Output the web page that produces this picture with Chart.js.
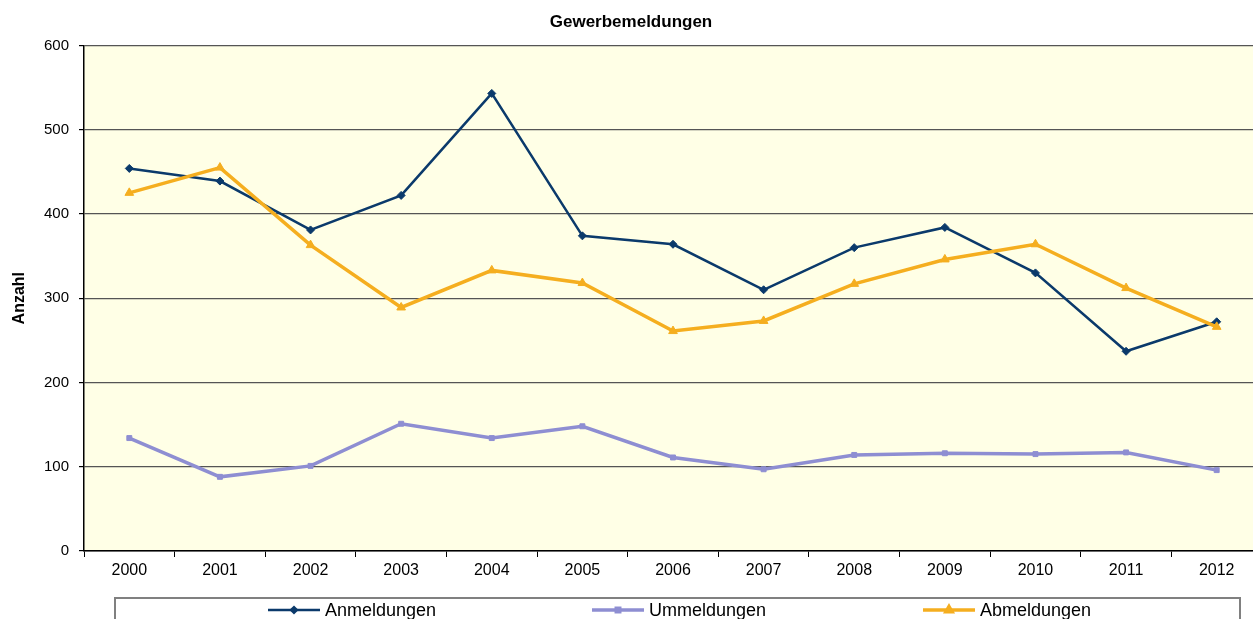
<!DOCTYPE html>
<html>
<head>
<meta charset="utf-8">
<script src="https://cdn.jsdelivr.net/npm/chart.js@4.4.0/dist/chart.umd.min.js"></script>
<style>
  html, body { margin: 0; padding: 0; background: #fff; overflow: hidden; }
  #wrap { width: 1270px; height: 640px; }
</style>
</head>
<body>
<div id="wrap"><canvas id="myChart" width="1270" height="640"></canvas></div>
<script>
// data
var years = ['2000', '2001', '2002', '2003', '2004', '2005', '2006', '2007', '2008', '2009', '2010', '2011', '2012'];
var anmeldungen = [454, 439, 381, 422, 543, 374, 364, 310, 360, 384, 330, 237, 272];
var ummeldungen = [134, 88, 101, 151, 134, 148, 111, 97, 114, 116, 115, 117, 96];
var abmeldungen = [425, 455, 363, 289, 333, 318, 261, 273, 317, 346, 364, 312, 266];
var yTicks = [0, 100, 200, 300, 400, 500, 600];

var FONT = "'Liberation Sans', Arial, sans-serif";

// yellow plot background
const plotBg = {
  id: 'plotBg',
  beforeDraw(chart) {
    const a = chart.chartArea, c = chart.ctx;
    c.save();
    c.fillStyle = '#FFFFE6';
    c.fillRect(a.left, a.top, a.right - a.left, a.bottom - a.top);
    c.restore();
  }
};

// excel style legend box at the bottom
const boxLegend = {
  id: 'boxLegend',
  afterDraw(chart) {
    const c = chart.ctx;
    c.save();
    c.strokeStyle = '#808080';
    c.lineWidth = 2;
    c.strokeRect(115, 598, 1125, 60);
    var starts = [268, 592, 923];
    var y = 610;
    chart.data.datasets.forEach(function (ds, i) {
      var x0 = starts[i];
      c.strokeStyle = ds.borderColor;
      c.lineWidth = ds.borderWidth;
      c.beginPath();
      c.moveTo(x0, y);
      c.lineTo(x0 + 52, y);
      c.stroke();
      c.fillStyle = ds.borderColor;
      Chart.helpers.drawPoint(c, {
        pointStyle: ds.pointStyle, radius: ds.pointRadius * 0.7, rotation: 0, borderWidth: 1
      }, x0 + 26, y);
      c.fillStyle = '#000';
      c.font = '18px ' + FONT;
      c.textBaseline = 'middle';
      c.textAlign = 'left';
      c.fillText(ds.label, x0 + 57, y + 1);
    });
    c.restore();
  }
};

const ctx = document.getElementById('myChart');
const myChart = new Chart(ctx, {
  type: 'line',
  data: {
    labels: years,
    datasets: [{
      label: 'Anmeldungen',
      data: anmeldungen,
      borderColor: '#0B3A6B',
      backgroundColor: '#0B3A6B',
      borderWidth: 2.5,
      pointStyle: 'rectRot',
      pointRadius: 4,
      pointBorderWidth: 1,
      order: 2
    }, {
      label: 'Ummeldungen',
      data: ummeldungen,
      borderColor: '#8E8ED2',
      backgroundColor: '#8E8ED2',
      borderWidth: 3.5,
      pointStyle: 'rect',
      pointRadius: 3.5,
      pointBorderWidth: 1,
      order: 1
    }, {
      label: 'Abmeldungen',
      data: abmeldungen,
      borderColor: '#F5AE1F',
      backgroundColor: '#F5AE1F',
      borderWidth: 3.5,
      pointStyle: 'triangle',
      pointRadius: 5,
      pointBorderWidth: 1,
      order: 0
    }]
  },
  options: {
    responsive: false,
    animation: false,
    layout: { padding: { left: 0, right: 8, top: 0, bottom: 59 } },
    elements: { line: { tension: 0 } },
    scales: {
      x: {
        offset: true,
        grid: {
          offset: true,
          drawOnChartArea: false,
          drawTicks: true,
          tickLength: 6,
          color: '#000'
        },
        border: { color: '#000', width: 1.5 },
        ticks: { color: '#000', font: { family: FONT, size: 16 }, padding: 4, maxRotation: 0, autoSkip: false },
        afterFit: function (s) { s.height = 30; }
      },
      y: {
        min: 0,
        max: 600,
        afterBuildTicks: function (s) { s.ticks = yTicks.map(function (v) { return { value: v }; }); },
        grid: {
          color: '#555',
          lineWidth: 1.2,
          drawTicks: true,
          tickLength: 5,
          tickColor: '#000'
        },
        border: { color: '#000', width: 1.5 },
        ticks: { color: '#000', font: { family: FONT, size: 15 }, padding: 10 },
        title: {
          display: true,
          text: 'Anzahl',
          color: '#000',
          font: { family: FONT, size: 16, weight: 'bold' },
          padding: { top: 10, bottom: 0 }
        },
        afterFit: function (s) { s.width = 84; }
      }
    },
    plugins: {
      legend: { display: false },
      tooltip: { enabled: false },
      title: {
        display: true,
        text: 'Gewerbemeldungen',
        color: '#000',
        font: { family: FONT, size: 17, weight: 'bold', lineHeight: 1.2 },
        padding: { top: 12, bottom: 13 }
      }
    }
  },
  plugins: [plotBg, boxLegend]
});
</script>
</body>
</html>
